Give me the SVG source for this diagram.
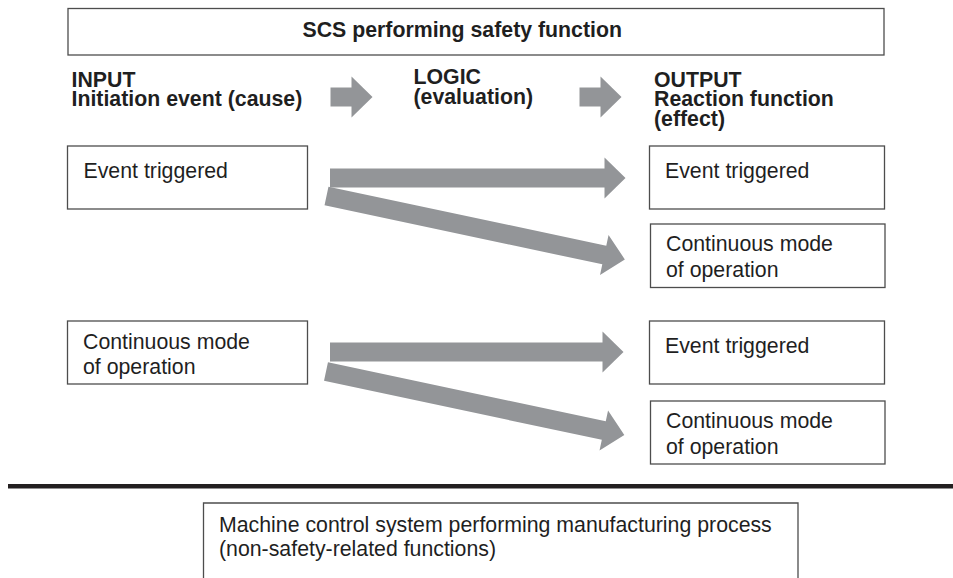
<svg xmlns="http://www.w3.org/2000/svg" width="953" height="578" viewBox="0 0 953 578">
  <style>
    .box { fill: #ffffff; stroke: #4d4d4d; stroke-width: 1.3; }
    .txt { font-family: "Liberation Sans", Arial, sans-serif; font-size: 21.3px; fill: #1f1f1f; }
    .hd { font-weight: bold; }
    .arrow { fill: #939598; stroke: none; }
    .rule { stroke: #231f20; stroke-width: 4.5; }
  </style>
  <defs>
    <!-- long flow arrow, drawn along +x from its tail centre -->
    <path id="longArrow" d="M0,-9.5 H284 V-20.5 L305,0 L284,20.5 V9.5 H0 Z"/>
  </defs>

  <rect width="953" height="578" fill="#ffffff"/>

  <!-- SCS header -->
  <g id="scs-header">
    <rect class="box" x="68" y="8.5" width="816" height="46.5"/>
    <text class="txt hd" x="302.5" y="36.5">SCS performing safety function</text>
  </g>

  <!-- column headings -->
  <g id="heading-input">
    <text class="txt hd" x="71.5" y="86.5">INPUT</text>
    <text class="txt hd" x="71.5" y="106">Initiation event (cause)</text>
  </g>
  <g id="heading-logic">
    <text class="txt hd" x="413.5" y="84">LOGIC</text>
    <text class="txt hd" x="413.5" y="103.5">(evaluation)</text>
  </g>
  <g id="heading-output">
    <text class="txt hd" x="654" y="86.5">OUTPUT</text>
    <text class="txt hd" x="654" y="106">Reaction function</text>
    <text class="txt hd" x="654" y="125.5">(effect)</text>
  </g>

  <!-- input nodes -->
  <g id="in-event">
    <rect class="box" x="67.5" y="146" width="240" height="63"/>
    <text class="txt" x="83.5" y="178">Event triggered</text>
  </g>
  <g id="in-continuous">
    <rect class="box" x="67.5" y="321" width="240" height="63"/>
    <text class="txt" x="83" y="349">Continuous mode</text>
    <text class="txt" x="83" y="374">of operation</text>
  </g>

  <!-- output nodes -->
  <g id="out-event-1">
    <rect class="box" x="649.5" y="146" width="235" height="63"/>
    <text class="txt" x="665" y="177.5">Event triggered</text>
  </g>
  <g id="out-continuous-1">
    <rect class="box" x="650.5" y="224" width="234.5" height="63.5"/>
    <text class="txt" x="666" y="250.5">Continuous mode</text>
    <text class="txt" x="666" y="276.5">of operation</text>
  </g>
  <g id="out-event-2">
    <rect class="box" x="649.5" y="321" width="235" height="63"/>
    <text class="txt" x="665" y="353">Event triggered</text>
  </g>
  <g id="out-continuous-2">
    <rect class="box" x="650.5" y="401" width="234.5" height="63"/>
    <text class="txt" x="666" y="428">Continuous mode</text>
    <text class="txt" x="666" y="454">of operation</text>
  </g>

  <!-- connectors -->
  <g id="connectors" class="arrow">
    <!-- heading arrows -->
    <path d="M330.5,87.5 H351.5 V76.5 L372.5,97 L351.5,117.5 V106.5 H330.5 Z"/>
    <path d="M579.5,87.5 H600.5 V76.5 L621.5,97 L600.5,117.5 V106.5 H579.5 Z"/>
    <!-- from "Event triggered" -->
    <path d="M330,168.5 H604.5 V157.5 L625.5,178 L604.5,198.5 V187.5 H330 Z"/>
    <use href="#longArrow" transform="translate(326.5,196) rotate(12)"/>
    <!-- from "Continuous mode of operation" -->
    <path d="M330,342.5 H602.5 V331.5 L623.5,352 L602.5,372.5 V361.5 H330 Z"/>
    <use href="#longArrow" transform="translate(326,371.5) rotate(12)"/>
  </g>

  <!-- boundary between safety and machine control -->
  <line class="rule" x1="8" y1="486.2" x2="953" y2="486.2"/>

  <!-- machine control system -->
  <g id="machine-control">
    <path class="box" d="M203.5,578 V503 H798 V578"/>
    <text class="txt" x="219" y="532">Machine control system performing manufacturing process</text>
    <text class="txt" x="219" y="556">(non-safety-related functions)</text>
  </g>
</svg>
